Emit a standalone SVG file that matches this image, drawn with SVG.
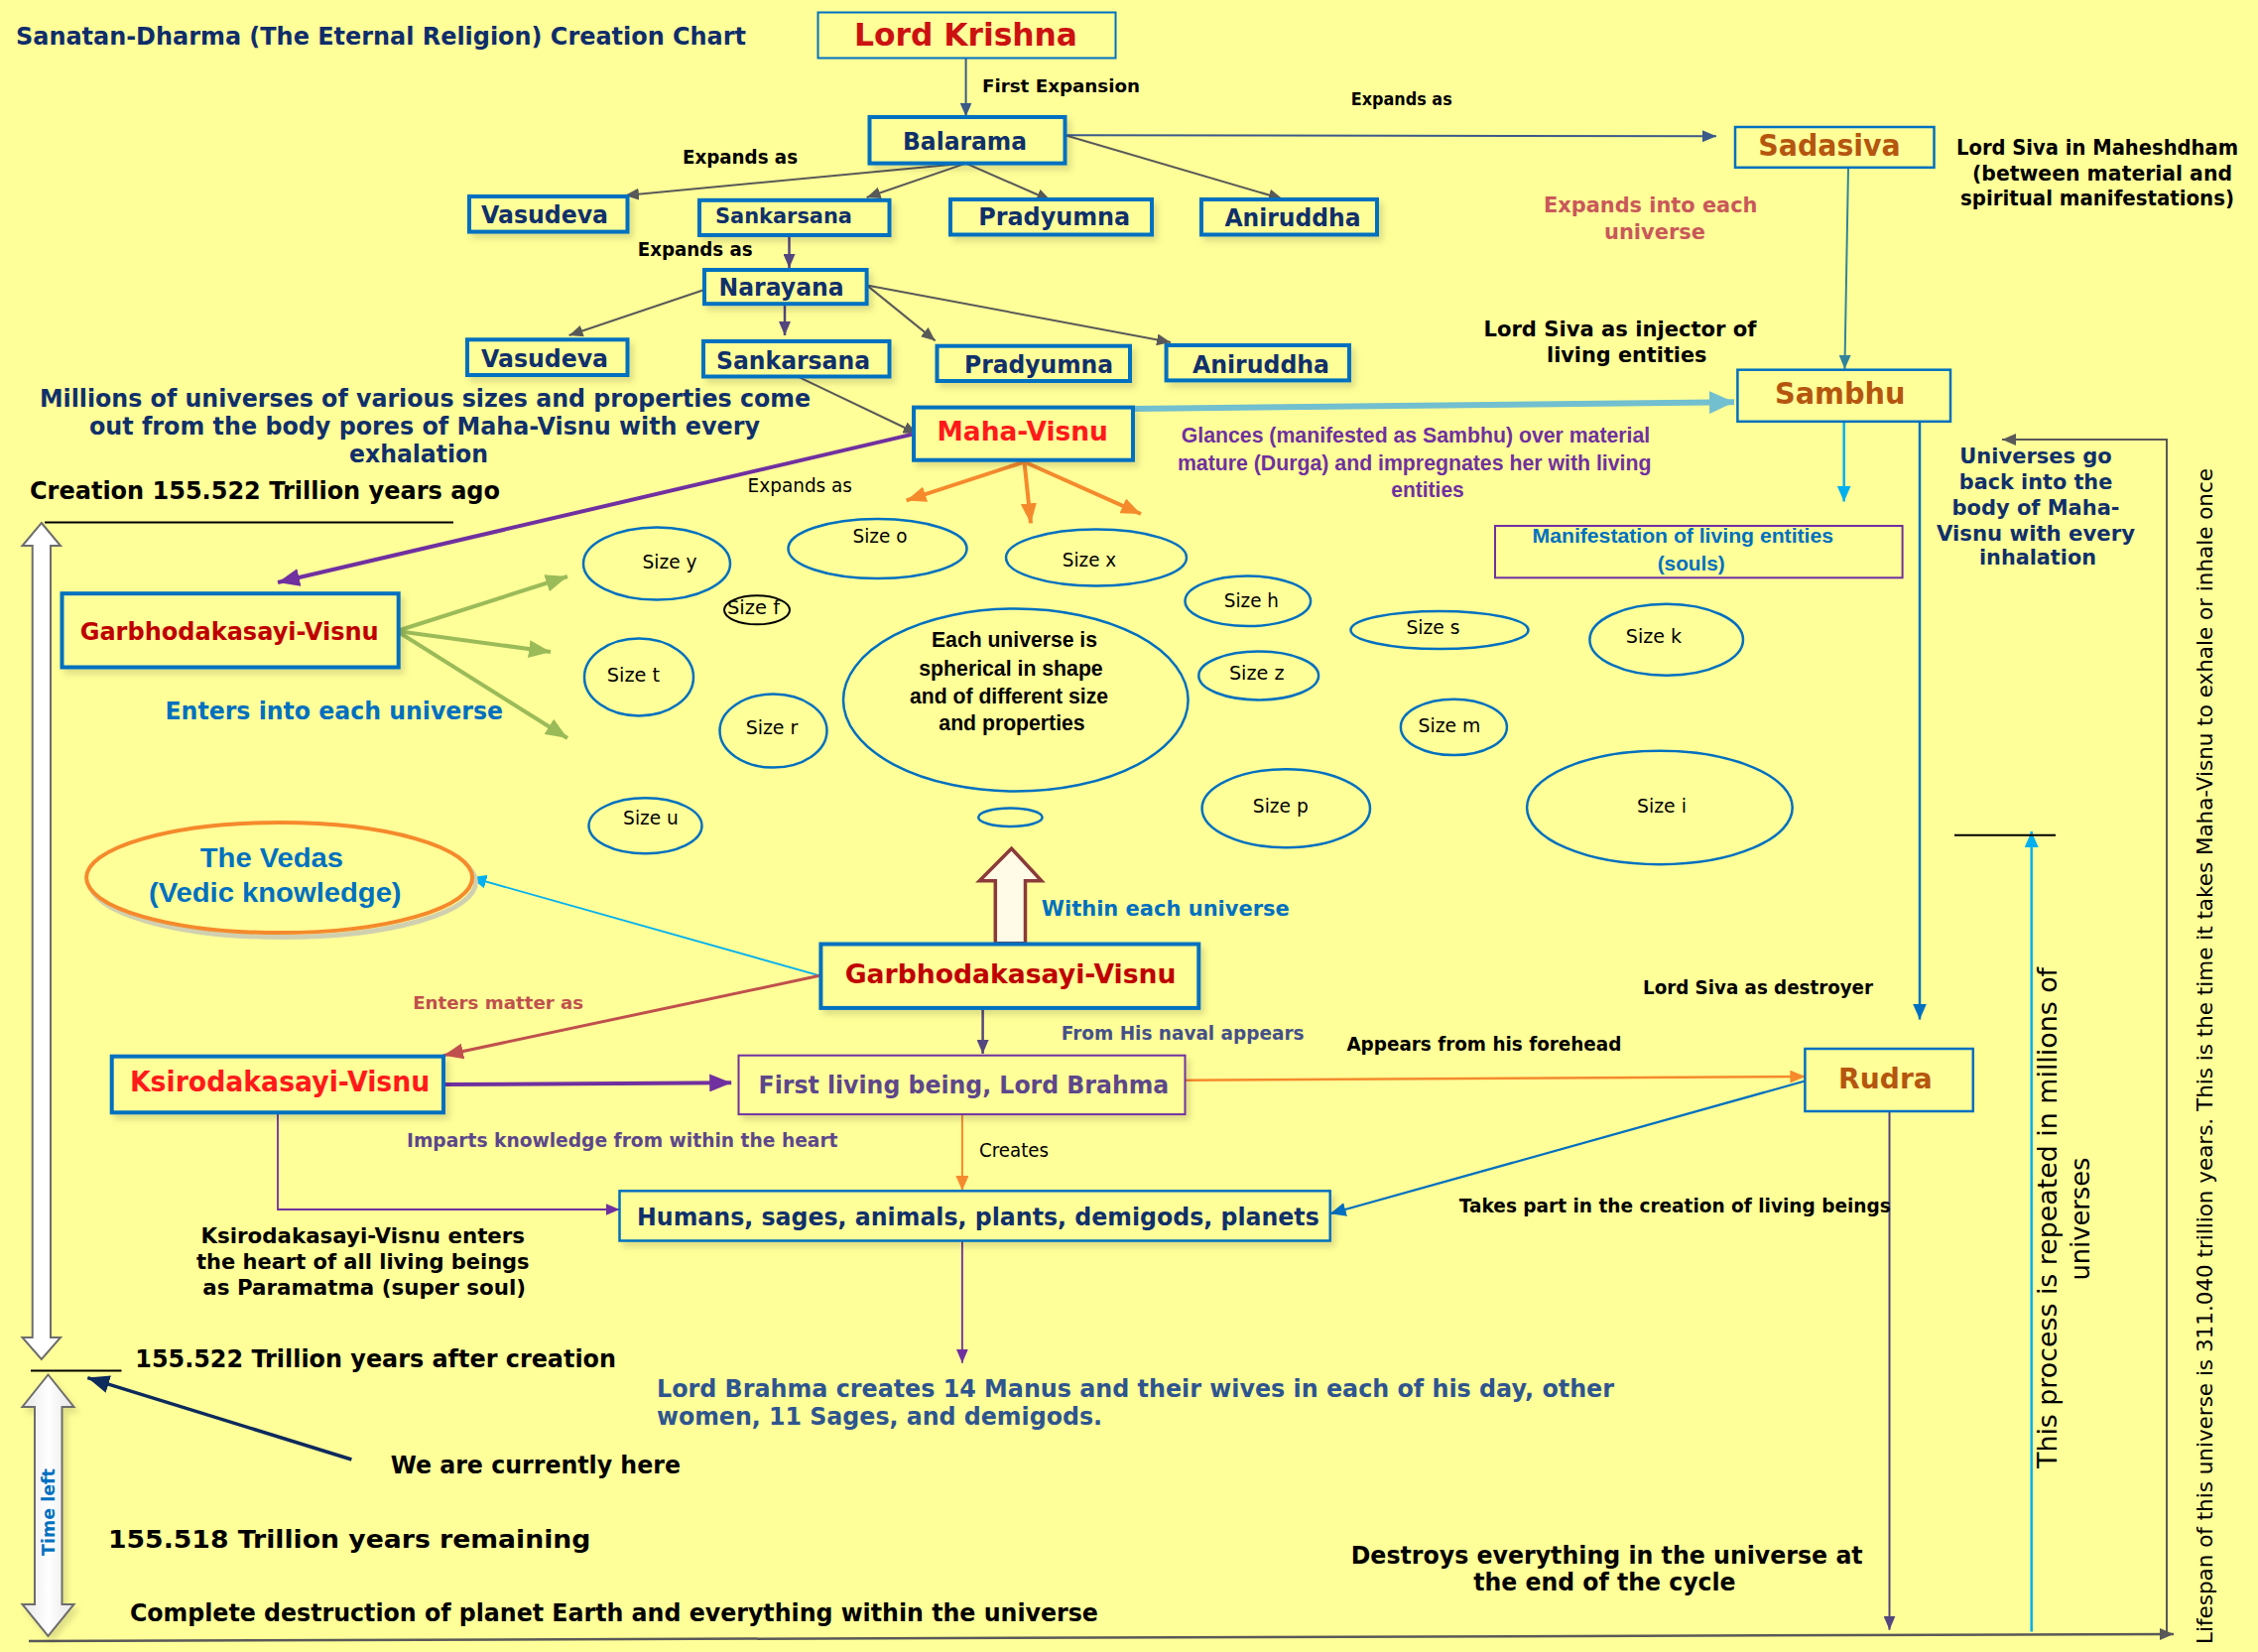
<svg xmlns="http://www.w3.org/2000/svg" width="2276" height="1665" viewBox="0 0 2276 1665">
<defs>
<style>
.b{font-family:"DejaVu Sans",Verdana,sans-serif;font-weight:bold;}
.r{font-family:"DejaVu Sans",Verdana,sans-serif;font-weight:normal;}
.a{font-family:"Liberation Sans",Arial,sans-serif;font-weight:bold;}
.box{fill:#ffff99;stroke:#0070c0;stroke-width:4;}
.box2{fill:#ffff99;stroke:#0070c0;stroke-width:2.5;}
.pbox{fill:#ffff99;stroke:#7030a0;stroke-width:2;}
.u{fill:none;stroke:#0070c0;stroke-width:2.5;}
.navy{fill:#10306b;}
.brown{fill:#b5560f;}
.c{fill:none;stroke-linecap:butt;}
</style>
<filter id="sh" x="-10%" y="-20%" width="130%" height="160%"><feDropShadow dx="4" dy="5" stdDeviation="3" flood-color="#000" flood-opacity="0.13"/></filter>
<linearGradient id="gg" x1="0" x2="1" y1="0" y2="0"><stop offset="0" stop-color="#e6e6e6"/><stop offset="0.5" stop-color="#ffffff"/><stop offset="1" stop-color="#e6e6e6"/></linearGradient>
<marker id="mGray" viewBox="0 0 14 12" refX="14" refY="6" markerWidth="14" markerHeight="12" markerUnits="userSpaceOnUse" orient="auto"><path d="M0,0 L14,6 L0,12 z" fill="#595959"/></marker>
<marker id="mDB" viewBox="0 0 14 12" refX="14" refY="6" markerWidth="14" markerHeight="12" markerUnits="userSpaceOnUse" orient="auto"><path d="M0,0 L14,6 L0,12 z" fill="#3b5a8a"/></marker>
<marker id="mPD" viewBox="0 0 14 12" refX="14" refY="6" markerWidth="14" markerHeight="12" markerUnits="userSpaceOnUse" orient="auto"><path d="M0,0 L14,6 L0,12 z" fill="#54467e"/></marker>
<marker id="mPur" viewBox="0 0 22 18" refX="22" refY="9" markerWidth="22" markerHeight="18" markerUnits="userSpaceOnUse" orient="auto"><path d="M0,0 L22,9 L0,18 z" fill="#7030a0"/></marker>
<marker id="mPurS" viewBox="0 0 14 12" refX="14" refY="6" markerWidth="14" markerHeight="12" markerUnits="userSpaceOnUse" orient="auto"><path d="M0,0 L14,6 L0,12 z" fill="#7030a0"/></marker>
<marker id="mOr" viewBox="0 0 20 16" refX="20" refY="8" markerWidth="20" markerHeight="16" markerUnits="userSpaceOnUse" orient="auto"><path d="M0,0 L20,8 L0,16 z" fill="#f58a2c"/></marker>
<marker id="mOrS" viewBox="0 0 15 13" refX="15" refY="6.5" markerWidth="15" markerHeight="13" markerUnits="userSpaceOnUse" orient="auto"><path d="M0,0 L15,6.5 L0,13 z" fill="#f58a2c"/></marker>
<marker id="mGr" viewBox="0 0 22 18" refX="22" refY="9" markerWidth="22" markerHeight="18" markerUnits="userSpaceOnUse" orient="auto"><path d="M0,0 L22,9 L0,18 z" fill="#9bbb59"/></marker>
<marker id="mTeal" viewBox="0 0 25 23" refX="25" refY="11.5" markerWidth="25" markerHeight="23" markerUnits="userSpaceOnUse" orient="auto"><path d="M0,0 L25,11.5 L0,23 z" fill="#72bfcf"/></marker>
<marker id="mTD" viewBox="0 0 14 12" refX="14" refY="6" markerWidth="14" markerHeight="12" markerUnits="userSpaceOnUse" orient="auto"><path d="M0,0 L14,6 L0,12 z" fill="#31849b"/></marker>
<marker id="mCy" viewBox="0 0 16 14" refX="16" refY="7" markerWidth="16" markerHeight="14" markerUnits="userSpaceOnUse" orient="auto"><path d="M0,0 L16,7 L0,14 z" fill="#00b0f0"/></marker>
<marker id="mBl" viewBox="0 0 16 14" refX="16" refY="7" markerWidth="16" markerHeight="14" markerUnits="userSpaceOnUse" orient="auto"><path d="M0,0 L16,7 L0,14 z" fill="#0070c0"/></marker>
<marker id="mRed" viewBox="0 0 20 16" refX="20" refY="8" markerWidth="20" markerHeight="16" markerUnits="userSpaceOnUse" orient="auto"><path d="M0,0 L20,8 L0,16 z" fill="#c0504d"/></marker>
<marker id="mNavy" viewBox="0 0 22 18" refX="22" refY="9" markerWidth="22" markerHeight="18" markerUnits="userSpaceOnUse" orient="auto"><path d="M0,0 L22,9 L0,18 z" fill="#0d2a5c"/></marker>
</defs>
<rect x="0" y="0" width="2276" height="1665" fill="#ffff99"/>

<g id="connectors">
<line class="c" x1="973.6" y1="58.4" x2="973.6" y2="117.5" stroke="#3b5a8a" stroke-width="2" marker-end="url(#mDB)"/>
<line class="c" x1="973.6" y1="164.6" x2="630" y2="197" stroke="#595959" stroke-width="2" marker-end="url(#mGray)"/>
<line class="c" x1="973.6" y1="164.6" x2="873.6" y2="199" stroke="#595959" stroke-width="2" marker-end="url(#mGray)"/>
<line class="c" x1="973.6" y1="164.6" x2="1059" y2="202" stroke="#595959" stroke-width="2" marker-end="url(#mGray)"/>
<line class="c" x1="1073.6" y1="136.3" x2="1292.7" y2="200.5" stroke="#595959" stroke-width="2" marker-end="url(#mGray)"/>
<line class="c" x1="1073.6" y1="136.3" x2="1730" y2="137.3" stroke="#3b5a8a" stroke-width="2" marker-end="url(#mDB)"/>
<line class="c" x1="795.5" y1="237" x2="795.5" y2="270" stroke="#54467e" stroke-width="2.5" marker-end="url(#mPD)"/>
<line class="c" x1="710" y1="292" x2="573.6" y2="338" stroke="#595959" stroke-width="2" marker-end="url(#mGray)"/>
<line class="c" x1="791" y1="306.2" x2="791" y2="338" stroke="#54467e" stroke-width="2.5" marker-end="url(#mPD)"/>
<line class="c" x1="873.6" y1="287.4" x2="942.7" y2="343.4" stroke="#595959" stroke-width="2" marker-end="url(#mGray)"/>
<line class="c" x1="873.6" y1="287.4" x2="1180" y2="345" stroke="#595959" stroke-width="2" marker-end="url(#mGray)"/>
<line class="c" x1="802.7" y1="378.8" x2="924.5" y2="437" stroke="#595959" stroke-width="2" marker-end="url(#mGray)"/>
<line class="c" x1="919" y1="437.9" x2="280" y2="587" stroke="#7030a0" stroke-width="4" marker-end="url(#mPur)"/>
<line class="c" x1="1032.5" y1="465.5" x2="913.6" y2="504.4" stroke="#f58a2c" stroke-width="4" marker-end="url(#mOr)"/>
<line class="c" x1="1032.5" y1="465.5" x2="1039" y2="527.4" stroke="#f58a2c" stroke-width="4" marker-end="url(#mOr)"/>
<line class="c" x1="1032.5" y1="465.5" x2="1150" y2="518" stroke="#f58a2c" stroke-width="4" marker-end="url(#mOr)"/>
<line class="c" x1="1142" y1="412" x2="1748" y2="405.3" stroke="#72bfcf" stroke-width="6" marker-end="url(#mTeal)"/>
<line class="c" x1="1863" y1="168.8" x2="1859.4" y2="372" stroke="#31849b" stroke-width="2" marker-end="url(#mTD)"/>
<line class="c" x1="1858.7" y1="424.8" x2="1858.7" y2="505.5" stroke="#00b0f0" stroke-width="2.5" marker-end="url(#mCy)"/>
<line class="c" x1="1935" y1="424.8" x2="1935" y2="1027.6" stroke="#0070c0" stroke-width="2.5" marker-end="url(#mBl)"/>
<path class="c" d="M2184,1647 L2184,443 L2018,443" stroke="#595959" stroke-width="2" marker-end="url(#mGray)"/>
<line class="c" x1="29" y1="1654" x2="2191" y2="1647" stroke="#595959" stroke-width="2.5" marker-end="url(#mGray)"/>
<line class="c" x1="1904.5" y1="1120" x2="1904.5" y2="1642.7" stroke="#54467e" stroke-width="2" marker-end="url(#mPD)"/>
<line class="c" x1="2047.7" y1="1644.5" x2="2047.7" y2="838" stroke="#00b0f0" stroke-width="2.5" marker-end="url(#mCy)"/>
<line class="c" x1="1970" y1="841.7" x2="2072" y2="841.7" stroke="#000" stroke-width="2"/>
<line class="c" x1="400" y1="636" x2="572" y2="581" stroke="#9bbb59" stroke-width="4" marker-end="url(#mGr)"/>
<line class="c" x1="400" y1="636" x2="555" y2="657" stroke="#9bbb59" stroke-width="4" marker-end="url(#mGr)"/>
<line class="c" x1="400" y1="636" x2="572" y2="744" stroke="#9bbb59" stroke-width="4" marker-end="url(#mGr)"/>
<line class="c" x1="826.3" y1="983.3" x2="474.4" y2="884.2" stroke="#00b0f0" stroke-width="1.8" marker-end="url(#mCy)"/>
<line class="c" x1="826.3" y1="983.3" x2="447" y2="1063.7" stroke="#c0504d" stroke-width="3" marker-end="url(#mRed)"/>
<line class="c" x1="990.6" y1="1016" x2="990.6" y2="1062" stroke="#54467e" stroke-width="2.5" marker-end="url(#mPD)"/>
<line class="c" x1="447" y1="1093" x2="737.2" y2="1091.3" stroke="#7030a0" stroke-width="4" marker-end="url(#mPur)"/>
<path class="c" d="M280,1121.3 L280,1219 L624.5,1219" stroke="#7030a0" stroke-width="1.8" marker-end="url(#mPurS)"/>
<line class="c" x1="969.9" y1="1123" x2="969.9" y2="1200" stroke="#f58a2c" stroke-width="2" marker-end="url(#mOrS)"/>
<line class="c" x1="969.9" y1="1250.5" x2="969.9" y2="1373.7" stroke="#7030a0" stroke-width="1.8" marker-end="url(#mPurS)"/>
<line class="c" x1="1194.5" y1="1088.8" x2="1819.4" y2="1085" stroke="#f58a2c" stroke-width="2.5" marker-end="url(#mOrS)"/>
<line class="c" x1="1819.4" y1="1089.5" x2="1340.7" y2="1223.3" stroke="#0070c0" stroke-width="2.2" marker-end="url(#mBl)"/>
<line class="c" x1="354.4" y1="1471" x2="88.3" y2="1388.6" stroke="#0d2a5c" stroke-width="3.5" marker-end="url(#mNavy)"/>
<line class="c" x1="45" y1="526.4" x2="457" y2="526.4" stroke="#000" stroke-width="2"/>
<line class="c" x1="31" y1="1381.5" x2="122.5" y2="1381.5" stroke="#000" stroke-width="2"/>
<polygon points="1019.6,855.2 1049.8,887.7 1033.5,887.7 1033.5,950.8 1003.3,950.8 1003.3,887.7 987.3,887.7" fill="#fffbe6" stroke="#8b3a3a" stroke-width="3.5" stroke-linejoin="miter"/>
</g>

<g id="time-arrows">
<polygon points="41.8,527 61,550 51,550 51,1348 61,1348 41.8,1370 22.5,1348 32.7,1348 32.7,550 22.5,550" fill="#ffffff" stroke="#6d6d6d" stroke-width="2"/>
<polygon points="48.5,1385.5 74.5,1418 62.5,1418 62.5,1617 74.5,1617 48.5,1649 22.5,1617 35,1617 35,1418 22.5,1418" fill="url(#gg)" stroke="#6d6d6d" stroke-width="2" filter="url(#sh)"/>
<text class="b" transform="translate(54.5,1568) rotate(-90)" font-size="18.5" fill="#0070c0" textLength="88" lengthAdjust="spacingAndGlyphs">Time left</text>
</g>

<g id="title"><text class="b" x="16" y="45.3" font-size="25.5" fill="#0f2d6b" textLength="736" lengthAdjust="spacingAndGlyphs">Sanatan-Dharma (The Eternal Religion) Creation Chart</text></g>

<g id="lord-krishna"><rect x="824.5" y="12.5" width="300" height="46" fill="#ffff99" stroke="#0070c0" stroke-width="2"/><text class="b" x="973.5" y="46" text-anchor="middle" font-size="32.5" fill="#cc1111" textLength="225" lengthAdjust="spacingAndGlyphs">Lord Krishna</text></g>

<g id="balarama"><rect class="box" x="876.5" y="118" width="197" height="46.6" filter="url(#sh)"/><text class="b navy" x="972.5" y="150.5" text-anchor="middle" font-size="24.3" textLength="125" lengthAdjust="spacingAndGlyphs">Balarama</text></g>
<g id="vasudeva-1"><rect class="box" x="473" y="198" width="159.5" height="35.6" filter="url(#sh)"/><text class="b navy" x="549" y="225" text-anchor="middle" font-size="24.3" textLength="128" lengthAdjust="spacingAndGlyphs">Vasudeva</text></g>
<g id="sankarsana-1"><rect class="box" x="705" y="201.8" width="191.5" height="35.2" filter="url(#sh)"/><text class="b navy" x="790" y="225" text-anchor="middle" font-size="22" textLength="138" lengthAdjust="spacingAndGlyphs">Sankarsana</text></g>
<g id="pradyumna-1"><rect class="box" x="958" y="201" width="203" height="35.5" filter="url(#sh)"/><text class="b navy" x="1062.7" y="227" text-anchor="middle" font-size="24.8" textLength="153" lengthAdjust="spacingAndGlyphs">Pradyumna</text></g>
<g id="aniruddha-1"><rect class="box" x="1211" y="201" width="177" height="35.5" filter="url(#sh)"/><text class="b navy" x="1303" y="227.5" text-anchor="middle" font-size="24.3" textLength="137" lengthAdjust="spacingAndGlyphs">Aniruddha</text></g>
<g id="narayana"><rect class="box" x="710" y="272" width="163.6" height="34.2" filter="url(#sh)"/><text class="b navy" x="787.6" y="298.4" text-anchor="middle" font-size="24.3" textLength="126" lengthAdjust="spacingAndGlyphs">Narayana</text></g>
<g id="vasudeva-2"><rect class="box" x="471" y="342.3" width="161.5" height="35.7" filter="url(#sh)"/><text class="b navy" x="549" y="370" text-anchor="middle" font-size="24.3" textLength="128" lengthAdjust="spacingAndGlyphs">Vasudeva</text></g>
<g id="sankarsana-2"><rect class="box" x="709" y="344" width="187.5" height="35.5" filter="url(#sh)"/><text class="b navy" x="799.5" y="371.7" text-anchor="middle" font-size="24.8" textLength="155" lengthAdjust="spacingAndGlyphs">Sankarsana</text></g>
<g id="pradyumna-2"><rect class="box" x="944.5" y="348.7" width="194.5" height="35.3" filter="url(#sh)"/><text class="b navy" x="1047" y="376" text-anchor="middle" font-size="24.3" textLength="150" lengthAdjust="spacingAndGlyphs">Pradyumna</text></g>
<g id="aniruddha-2"><rect class="box" x="1175.6" y="348" width="184.4" height="35.4" filter="url(#sh)"/><text class="b navy" x="1271" y="376" text-anchor="middle" font-size="24.3" textLength="138" lengthAdjust="spacingAndGlyphs">Aniruddha</text></g>
<g id="maha-visnu"><rect class="box" x="921" y="410.6" width="221" height="53.1" filter="url(#sh)"/><text class="b" x="1030.7" y="444" text-anchor="middle" font-size="27.4" fill="#ff1a1a" textLength="172.5" lengthAdjust="spacingAndGlyphs">Maha-Visnu</text></g>
<g id="sadasiva"><rect class="box2" x="1749" y="128" width="200.5" height="40.8" stroke-width="3"/><text class="b brown" x="1844" y="156.8" text-anchor="middle" font-size="29.5" textLength="143.5" lengthAdjust="spacingAndGlyphs">Sadasiva</text></g>
<g id="sambhu"><rect class="box2" x="1751.4" y="372.7" width="214.6" height="52.1" stroke-width="3"/><text class="b brown" x="1854.7" y="407" text-anchor="middle" font-size="29.5" textLength="131.5" lengthAdjust="spacingAndGlyphs">Sambhu</text></g>
<g id="manifestation"><rect class="pbox" x="1507" y="530" width="410.6" height="52.3"/><text class="a" x="1696.3" y="547" text-anchor="middle" font-size="20.5" fill="#0070c0" textLength="303.4" lengthAdjust="spacingAndGlyphs">Manifestation of living entities</text><text class="a" x="1704.7" y="574.5" text-anchor="middle" font-size="20.5" fill="#0070c0" textLength="68" lengthAdjust="spacingAndGlyphs">(souls)</text></g>
<g id="garbhodakasayi-visnu-1"><rect class="box" x="62.5" y="598.2" width="339.2" height="74.3" filter="url(#sh)"/><text class="b" x="231.2" y="645.3" text-anchor="middle" font-size="24.8" fill="#c00000" textLength="301" lengthAdjust="spacingAndGlyphs">Garbhodakasayi-Visnu</text></g>
<g id="vedas"><ellipse cx="285" cy="889" rx="194.5" ry="55.5" fill="none" stroke="#d0d0b0" stroke-width="5"/><ellipse cx="281.6" cy="884.6" rx="194.5" ry="55.5" fill="#ffff99" stroke="#f58a2c" stroke-width="4"/><text class="a" x="273.9" y="873.6" text-anchor="middle" font-size="28.5" fill="#0070c0" textLength="144.3" lengthAdjust="spacingAndGlyphs">The Vedas</text><text class="a" x="277.3" y="909" text-anchor="middle" font-size="28.5" fill="#0070c0" textLength="254.6" lengthAdjust="spacingAndGlyphs">(Vedic knowledge)</text></g>
<g id="garbhodakasayi-visnu-2"><rect class="box" x="827.4" y="951.5" width="380.9" height="64.4" filter="url(#sh)"/><text class="b" x="1018.6" y="991" text-anchor="middle" font-size="27.4" fill="#c00000" textLength="333.7" lengthAdjust="spacingAndGlyphs">Garbhodakasayi-Visnu</text></g>
<g id="ksirodakasayi-visnu"><rect class="box" x="112.7" y="1064.7" width="334.3" height="56.6" filter="url(#sh)"/><text class="b" x="282.1" y="1100" text-anchor="middle" font-size="27.5" fill="#ff1a1a" textLength="302.4" lengthAdjust="spacingAndGlyphs">Ksirodakasayi-Visnu</text></g>
<g id="lord-brahma"><rect class="pbox" x="744.5" y="1063.7" width="450" height="59.4" filter="url(#sh)"/><text class="b" x="971.4" y="1102" text-anchor="middle" font-size="24.7" fill="#5d478b" textLength="413.7" lengthAdjust="spacingAndGlyphs">First living being, Lord Brahma</text></g>
<g id="humans"><rect class="box2" x="624.5" y="1200.3" width="716.2" height="50.2" stroke-width="2" filter="url(#sh)"/><text class="b navy" x="985.9" y="1234.6" text-anchor="middle" font-size="24.7" textLength="687.7" lengthAdjust="spacingAndGlyphs">Humans, sages, animals, plants, demigods, planets</text></g>
<g id="rudra"><rect class="box2" x="1819.4" y="1057" width="169.4" height="63" stroke-width="2.5"/><text class="b brown" x="1900.4" y="1096.6" text-anchor="middle" font-size="29.2" textLength="94.7" lengthAdjust="spacingAndGlyphs">Rudra</text></g>

<g id="universes">
<ellipse class="u" cx="884.5" cy="553" rx="90" ry="30"/>
<ellipse class="u" cx="662" cy="568" rx="74" ry="36.5"/>
<ellipse class="u" cx="1105" cy="562" rx="91" ry="28.5"/>
<ellipse cx="763" cy="614.8" rx="33" ry="14.5" fill="none" stroke="#000" stroke-width="2"/>
<ellipse class="u" cx="644" cy="682.5" rx="55" ry="39"/>
<ellipse class="u" cx="779.5" cy="736.6" rx="54" ry="37"/>
<ellipse class="u" cx="650.5" cy="832.3" rx="57" ry="28"/>
<ellipse class="u" cx="1023.8" cy="705.5" rx="173.8" ry="92" stroke-width="3.2"/>
<ellipse class="u" cx="1018.4" cy="823.7" rx="32.2" ry="9.2" stroke-width="2"/>
<ellipse class="u" cx="1257.8" cy="605.8" rx="63.3" ry="25.3"/>
<ellipse class="u" cx="1451" cy="635" rx="89.5" ry="19"/>
<ellipse class="u" cx="1679.7" cy="644.7" rx="77.3" ry="36"/>
<ellipse class="u" cx="1268.7" cy="681" rx="60.4" ry="24.4"/>
<ellipse class="u" cx="1465.4" cy="732.9" rx="53.5" ry="28.2"/>
<ellipse class="u" cx="1296.3" cy="814.7" rx="84.7" ry="39.5" stroke-width="3"/>
<ellipse class="u" cx="1672.9" cy="814" rx="133.8" ry="57.2" stroke-width="3.2"/>
<g class="r" font-size="19.5" fill="#000" text-anchor="middle">
<text x="887" y="547" textLength="55" lengthAdjust="spacingAndGlyphs">Size o</text>
<text x="675" y="572.7" textLength="55" lengthAdjust="spacingAndGlyphs">Size y</text>
<text x="1098" y="571" textLength="54.4" lengthAdjust="spacingAndGlyphs">Size x</text>
<text x="759.5" y="619.4" textLength="53" lengthAdjust="spacingAndGlyphs">Size f</text>
<text x="638.5" y="686.7" textLength="53.4" lengthAdjust="spacingAndGlyphs">Size t</text>
<text x="778" y="739.8" textLength="52.7" lengthAdjust="spacingAndGlyphs">Size r</text>
<text x="656" y="831" textLength="55.8" lengthAdjust="spacingAndGlyphs">Size u</text>
<text x="1261.4" y="611.6" textLength="55.2" lengthAdjust="spacingAndGlyphs">Size h</text>
<text x="1444.5" y="639.2" textLength="54.1" lengthAdjust="spacingAndGlyphs">Size s</text>
<text x="1667" y="647.7" textLength="56.4" lengthAdjust="spacingAndGlyphs">Size k</text>
<text x="1266.7" y="684.9" textLength="55.6" lengthAdjust="spacingAndGlyphs">Size z</text>
<text x="1461" y="738" textLength="62.9" lengthAdjust="spacingAndGlyphs">Size m</text>
<text x="1290.8" y="818.7" textLength="55.9" lengthAdjust="spacingAndGlyphs">Size p</text>
<text x="1675" y="818.7" textLength="49.8" lengthAdjust="spacingAndGlyphs">Size i</text>
</g>
<g class="a" font-size="21.5" fill="#000" text-anchor="middle">
<text x="1022.5" y="652.3" textLength="167" lengthAdjust="spacingAndGlyphs">Each universe is</text>
<text x="1019" y="680.7" textLength="185.4" lengthAdjust="spacingAndGlyphs">spherical in shape</text>
<text x="1017" y="709" textLength="200" lengthAdjust="spacingAndGlyphs">and of different size</text>
<text x="1020" y="736.2" textLength="147.3" lengthAdjust="spacingAndGlyphs">and properties</text>
</g>
</g>

<g id="labels">
<text class="b" x="990" y="92.7" font-size="18.5" fill="#000" textLength="159" lengthAdjust="spacingAndGlyphs">First Expansion</text>
<text class="b" x="688" y="164.6" font-size="19" fill="#000" textLength="116" lengthAdjust="spacingAndGlyphs">Expands as</text>
<text class="b" x="642.7" y="258.4" font-size="19" fill="#000" textLength="116" lengthAdjust="spacingAndGlyphs">Expands as</text>
<text class="b" x="1361.7" y="105.5" font-size="17.5" fill="#000" textLength="102" lengthAdjust="spacingAndGlyphs">Expands as</text>
<text class="b" x="1663.7" y="214" text-anchor="middle" font-size="21" fill="#c9585a" textLength="215.4" lengthAdjust="spacingAndGlyphs">Expands into each</text>
<text class="b" x="1668" y="240.7" text-anchor="middle" font-size="21" fill="#c9585a" textLength="102" lengthAdjust="spacingAndGlyphs">universe</text>
<g class="b" font-size="21" fill="#000" text-anchor="middle">
<text x="2114" y="155.8" textLength="284" lengthAdjust="spacingAndGlyphs">Lord Siva in Maheshdham</text>
<text x="2119" y="182.3" textLength="262" lengthAdjust="spacingAndGlyphs">(between material and</text>
<text x="2114" y="207" textLength="276" lengthAdjust="spacingAndGlyphs">spiritual manifestations)</text>
</g>
<text class="b" x="1495.5" y="339" font-size="20.5" fill="#000" textLength="275" lengthAdjust="spacingAndGlyphs">Lord Siva as injector of</text>
<text class="b" x="1559" y="364.6" font-size="20.5" fill="#000" textLength="161.5" lengthAdjust="spacingAndGlyphs">living entities</text>
<text class="a" x="1427" y="446" text-anchor="middle" font-size="21.5" fill="#7030a0" textLength="472.5" lengthAdjust="spacingAndGlyphs">Glances (manifested as Sambhu) over material</text>
<text class="a" x="1425.7" y="474.3" text-anchor="middle" font-size="21.5" fill="#7030a0" textLength="477.5" lengthAdjust="spacingAndGlyphs">mature (Durga) and impregnates her with living</text>
<text class="a" x="1439" y="501" text-anchor="middle" font-size="21.5" fill="#7030a0" textLength="73.5" lengthAdjust="spacingAndGlyphs">entities</text>
<text class="b navy" x="40" y="410" font-size="25" textLength="777" lengthAdjust="spacingAndGlyphs">Millions of universes of various sizes and properties come</text>
<text class="b navy" x="90" y="438" font-size="25" textLength="676" lengthAdjust="spacingAndGlyphs">out from the body pores of Maha-Visnu with every</text>
<text class="b navy" x="352" y="465.5" font-size="25" textLength="140" lengthAdjust="spacingAndGlyphs">exhalation</text>
<text class="b" x="30" y="502.7" font-size="25" fill="#000" textLength="474" lengthAdjust="spacingAndGlyphs">Creation 155.522 Trillion years ago</text>
<text class="r" x="753.6" y="495.6" font-size="19" fill="#000" textLength="105.4" lengthAdjust="spacingAndGlyphs">Expands as</text>
<g class="b navy" font-size="22" text-anchor="middle">
<text x="2052" y="466.5" textLength="153.4" lengthAdjust="spacingAndGlyphs">Universes go</text>
<text x="2052" y="492.7" textLength="154.5" lengthAdjust="spacingAndGlyphs">back into the</text>
<text x="2052" y="519" textLength="169" lengthAdjust="spacingAndGlyphs">body of Maha-</text>
<text x="2052" y="545" textLength="200" lengthAdjust="spacingAndGlyphs">Visnu with every</text>
<text x="2054" y="569" textLength="118" lengthAdjust="spacingAndGlyphs">inhalation</text>
</g>
<text class="b" x="166.5" y="725" font-size="24.7" fill="#0070c0" textLength="340.5" lengthAdjust="spacingAndGlyphs">Enters into each universe</text>
<text class="b" x="1049.8" y="923.1" font-size="22" fill="#0070c0" textLength="250" lengthAdjust="spacingAndGlyphs">Within each universe</text>
<text class="b" x="416.2" y="1017" font-size="18" fill="#c0504d" textLength="172" lengthAdjust="spacingAndGlyphs">Enters matter as</text>
<text class="b" x="1069.8" y="1047.7" font-size="19.5" fill="#45508a" textLength="244.7" lengthAdjust="spacingAndGlyphs">From His naval appears</text>
<text class="b" x="1357.4" y="1059.4" font-size="19.5" fill="#000" textLength="277" lengthAdjust="spacingAndGlyphs">Appears from his forehead</text>
<text class="b" x="1656" y="1001.7" font-size="19.5" fill="#000" textLength="232" lengthAdjust="spacingAndGlyphs">Lord Siva as destroyer</text>
<text class="b" x="410" y="1156" font-size="19.5" fill="#5d478b" textLength="434.5" lengthAdjust="spacingAndGlyphs">Imparts knowledge from within the heart</text>
<text class="r" x="987" y="1165.6" font-size="19" fill="#000" textLength="70" lengthAdjust="spacingAndGlyphs">Creates</text>
<text class="b" x="1470.8" y="1221.5" font-size="19.5" fill="#000" textLength="435" lengthAdjust="spacingAndGlyphs">Takes part in the creation of living beings</text>
<g class="b" font-size="22" fill="#000" text-anchor="middle">
<text x="365.8" y="1253.4" textLength="326.5" lengthAdjust="spacingAndGlyphs">Ksirodakasayi-Visnu enters</text>
<text x="365.8" y="1278.9" textLength="335.6" lengthAdjust="spacingAndGlyphs">the heart of all living beings</text>
<text x="367.2" y="1304.7" textLength="325.7" lengthAdjust="spacingAndGlyphs">as Paramatma (super soul)</text>
</g>
<text class="b" x="136.3" y="1378" font-size="25" fill="#000" textLength="484.7" lengthAdjust="spacingAndGlyphs">155.522 Trillion years after creation</text>
<text class="b" x="393.7" y="1484.5" font-size="25" fill="#000" textLength="292.3" lengthAdjust="spacingAndGlyphs">We are currently here</text>
<text class="b" x="109" y="1560" font-size="25.5" fill="#000" textLength="486.4" lengthAdjust="spacingAndGlyphs">155.518 Trillion years remaining</text>
<text class="b" x="130.9" y="1634" font-size="24.5" fill="#000" textLength="976" lengthAdjust="spacingAndGlyphs">Complete destruction of planet Earth and everything within the universe</text>
<text class="b" x="662" y="1408.4" font-size="25" fill="#2e5590" textLength="965" lengthAdjust="spacingAndGlyphs">Lord Brahma creates 14 Manus and their wives in each of his day, other</text>
<text class="b" x="662" y="1436.4" font-size="25" fill="#2e5590" textLength="449" lengthAdjust="spacingAndGlyphs">women, 11 Sages, and demigods.</text>
<text class="b" x="1361.7" y="1575.5" font-size="25" fill="#000" textLength="516" lengthAdjust="spacingAndGlyphs">Destroys everything in the universe at</text>
<text class="b" x="1485.3" y="1603" font-size="25" fill="#000" textLength="264.3" lengthAdjust="spacingAndGlyphs">the end of the cycle</text>
<text class="r" transform="translate(2073,1480) rotate(-90)" font-size="27" fill="#000" textLength="505" lengthAdjust="spacingAndGlyphs">This process is repeated in millions of</text>
<text class="r" transform="translate(2106,1290.5) rotate(-90)" font-size="27" fill="#000" textLength="124" lengthAdjust="spacingAndGlyphs">universes</text>
<text class="r" transform="translate(2230,1657) rotate(-90)" font-size="22" fill="#000" textLength="1185" lengthAdjust="spacingAndGlyphs">Lifespan of this universe is 311.040 trillion years.  This is the time it takes Maha-Visnu to exhale or inhale once</text>
</g>
</svg>
